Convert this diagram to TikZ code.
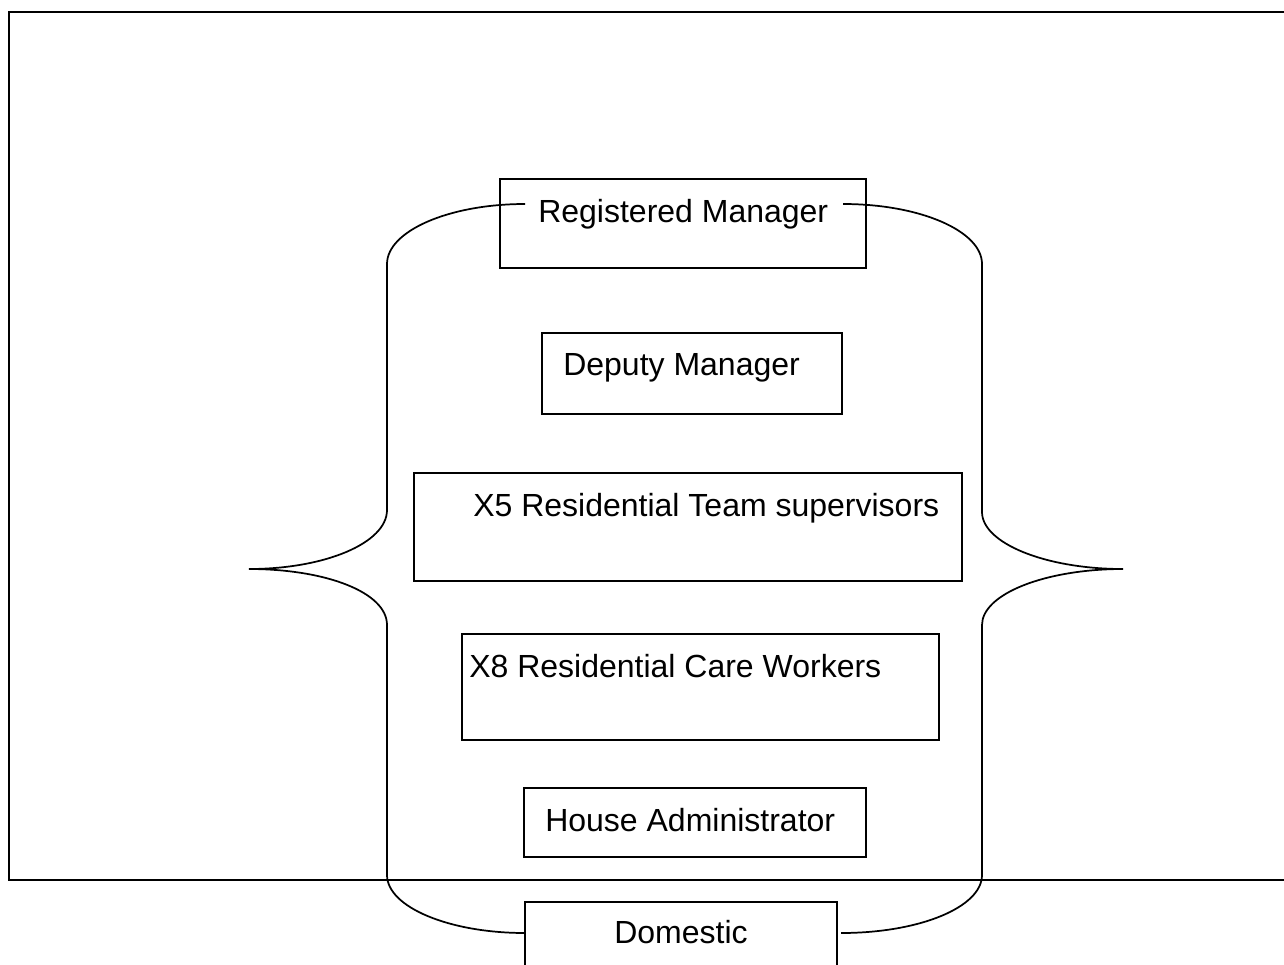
\documentclass[tikz,border=0pt]{standalone}
\usepackage{fontspec}
\setmainfont{Liberation Sans}
\usetikzlibrary{fit}
\tikzset{
  box/.style={draw=black, line width=1.3pt, inner sep=0pt, rectangle},
  lbl/.style={inner sep=0pt, anchor=base west, font=\fontsize{24}{28}\selectfont},
  brace/.style={draw=black, line width=1.3pt},
  frame/.style={draw=black, line width=1.8pt}
}
\begin{document}
\begin{tikzpicture}[x=0.75pt, y=-0.75pt]
\useasboundingbox (0,0) rectangle (1284,964);
% outer frame (open on the right)
\draw[frame] (1290,12) -- (9,12) -- (9,880) -- (1290,880);
% boxes
\node[box, fit={(500,179) (866,268)}] (rm) {};
\node[box, fit={(542,333) (842,414)}] (dm) {};
\node[box, fit={(414,473) (962,581)}] (ts) {};
\node[box, fit={(462,634) (939,740)}] (cw) {};
\node[box, fit={(524,788) (866,857)}] (ha) {};
\node[box, fit={(525,902) (837,1000)}] (do) {};
% labels
\node[lbl] (trm) at (538,222) {Registered Manager};
\node[lbl] (tdm) at (563,375) {Deputy Manager};
\node[lbl] (tts) at (473,516) {X5 Residential Team supervisors};
\node[lbl] (tcw) at (469,677) {X8 Residential Care Workers};
\node[lbl] (tha) at (545,831) {House Administrator};
\node[lbl] (tdo) at (614,943) {Domestic};
% left brace
\draw[brace] (525,204) .. controls (449,204) and (387,231) .. (387,264)
  -- (387,510) .. controls (387,543) and (325,569) .. (249,569)
  .. controls (325,569) and (387,592) .. (387,625)
  -- (387,875) .. controls (387,907) and (449,933) .. (525,933);
% right brace
\draw[brace] (843,204) .. controls (920,204) and (982,231) .. (982,264)
  -- (982,512) .. controls (982,543) and (1045,569) .. (1123,569)
  .. controls (1045,569) and (982,594) .. (982,625)
  -- (982,875) .. controls (982,907) and (920,933) .. (841,933);
\end{tikzpicture}
\end{document}
